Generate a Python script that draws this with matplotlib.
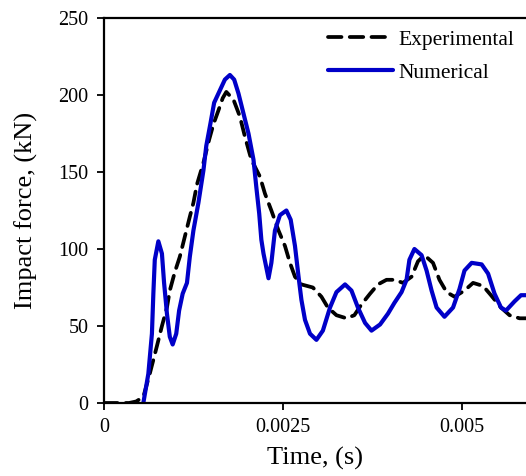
import matplotlib
matplotlib.use("Agg")
import matplotlib.pyplot as plt

# Experimental (black dashed)
t_exp = [0.0, 0.0002, 0.00035, 0.00045, 0.00055, 0.00064, 0.00074, 0.00081, 0.00088, 0.00092,
         0.00099, 0.00106, 0.00113, 0.0012, 0.00125, 0.0013, 0.00139, 0.00147, 0.00153,
         0.0016, 0.00166, 0.00171, 0.00181, 0.0019, 0.00197, 0.00206, 0.00218, 0.00225,
         0.00234, 0.00244, 0.00253, 0.0026, 0.00267, 0.00276, 0.00292, 0.00304, 0.00313,
         0.00325, 0.00339, 0.0035, 0.0036, 0.00372, 0.00383, 0.00395, 0.00406, 0.00418,
         0.0043, 0.00439, 0.00448, 0.0046, 0.00469, 0.00479, 0.0049, 0.00504, 0.00516,
         0.0053, 0.00541, 0.00555, 0.00567, 0.00581, 0.0059]
f_exp = [0, 0, 0, 1, 4, 19, 37, 50, 62, 73,
         85, 95, 108, 121, 130, 142, 156, 171, 181,
         190, 198, 202, 197, 186, 173, 158, 147, 136,
         125, 112, 102, 91, 82, 77, 75, 69, 62,
         57, 55, 57, 64, 71, 77, 80, 80, 78,
         82, 92, 96, 91, 80, 72, 69, 73, 78,
         76, 70, 62, 57, 55, 55]

# Numerical (blue solid)
t_num = [0.00055, 0.00062, 0.00067, 0.00069, 0.00071, 0.00076, 0.00081, 0.00084, 0.00088,
         0.00092, 0.00096, 0.00101, 0.00105, 0.0011, 0.00116, 0.0012, 0.00125, 0.00132,
         0.00139, 0.00143, 0.00149, 0.00154, 0.00162, 0.00169, 0.00176, 0.00182, 0.00188,
         0.00195, 0.00202, 0.00209, 0.00213, 0.00217, 0.0022, 0.00223, 0.0023, 0.00234,
         0.00239, 0.00246, 0.00255, 0.00261, 0.00267, 0.00272, 0.00276, 0.00281, 0.00288,
         0.00297, 0.00306, 0.00316, 0.00325, 0.00337, 0.00346, 0.00355, 0.00365, 0.00374,
         0.00386, 0.00397, 0.00406, 0.00416, 0.00423, 0.00427, 0.00434, 0.00444, 0.00451,
         0.00458, 0.00465, 0.00476, 0.00488, 0.00497, 0.00504, 0.00514, 0.00528, 0.00537,
         0.00546, 0.00555, 0.00562, 0.00574, 0.00583, 0.0059]
f_num = [0, 19, 45, 71, 93, 105, 97, 78, 58,
         43, 38, 45, 60, 71, 78, 95, 112, 130,
         151, 167, 182, 195, 203, 210, 213, 210, 201,
         188, 175, 158, 140, 123, 106, 97, 81, 91,
         112, 122, 125, 119, 102, 82, 67, 54, 45,
         41, 47, 62, 72, 77, 73, 62, 52, 47,
         51, 58, 65, 72, 80, 93, 100, 96, 86,
         73, 62, 56, 62, 74, 86, 91, 90, 84,
         71, 62, 60, 66, 70, 70]

plt.rcParams['font.family'] = ['Liberation Serif', 'DejaVu Serif']
fs_tick = 14.5
fs_label = 19
fs_leg = 15.5

fig = plt.figure(figsize=(5.26, 4.76), dpi=100)
ax = fig.add_axes([104/526, 1-403/476, 1-104/526, (403-18)/476])

ax.plot(t_exp, f_exp, color='black', lw=2.7, dashes=(3.6, 2.2), dash_capstyle='round',
        solid_joinstyle='round', label='Experimental')
ax.plot(t_num, f_num, color='#0000C8', lw=3.0, solid_capstyle='round',
        solid_joinstyle='round', label='Numerical')

ax.set_xlim(0, 0.0059)
ax.set_ylim(0, 250)
ax.set_xticks([0, 0.0025, 0.005])
ax.set_xticklabels(['0', '0.0025', '0.005'])
ax.set_yticks([0, 50, 100, 150, 200, 250])
ax.set_yticklabels(['0', '50', '100', '150', '200', '250'])
ax.tick_params(direction='out', length=5, width=1.3, labelsize=fs_tick, pad=6)
ax.spines['right'].set_visible(False)
for s in ['left', 'bottom', 'top']:
    ax.spines[s].set_linewidth(1.6)
ax.set_xlabel('Time, (s)', fontsize=fs_label, labelpad=7)
ax.set_ylabel('Impact force, (kN)', fontsize=fs_label, labelpad=15)

leg = ax.legend(loc='upper right', frameon=False, fontsize=fs_leg, handlelength=3.0,
                handletextpad=0.25, labelspacing=0.6, borderaxespad=0.15,
                bbox_to_anchor=(1.0, 1.0))

fig.savefig('out.png', dpi=100)
